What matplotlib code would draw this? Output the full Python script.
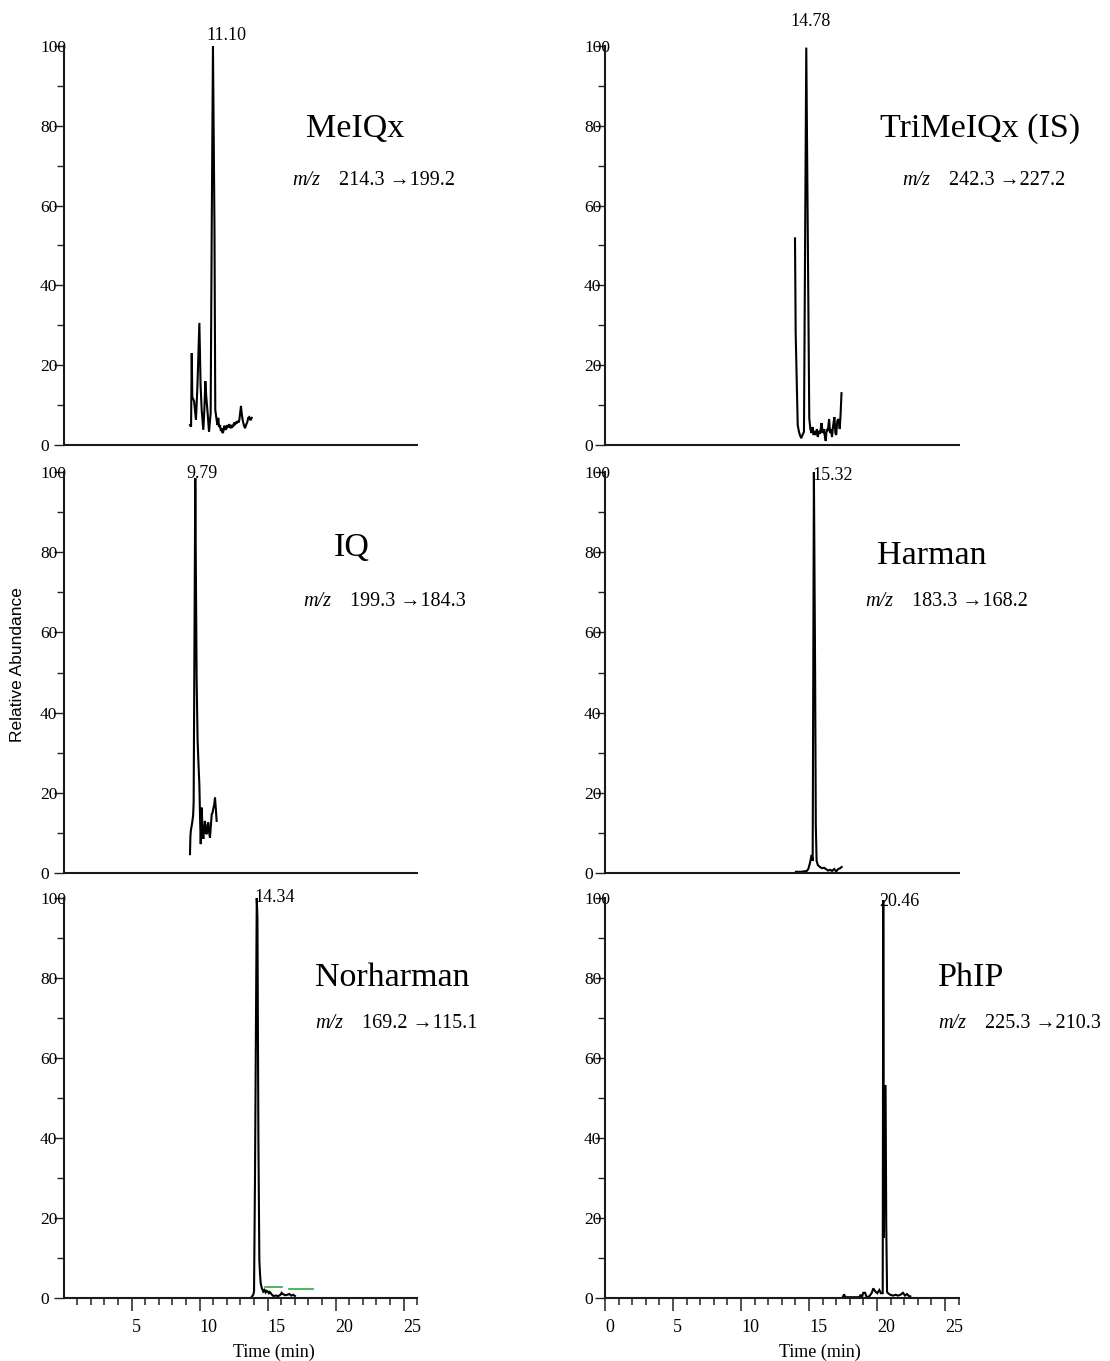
import matplotlib
matplotlib.use('Agg')
import matplotlib.pyplot as plt
import numpy as np

W, H = 1110, 1361
SERIF = ['Liberation Serif', 'DejaVu Serif']
SANS = ['Liberation Sans', 'DejaVu Sans']

# ---------------- data ----------------
compounds = ['MeIQx', 'TriMeIQx (IS)', 'IQ', 'Harman', 'Norharman', 'PhIP']
transitions = ['214.3 \u2192199.2', '242.3 \u2192227.2', '199.3 \u2192184.3',
               '183.3 \u2192168.2', '169.2 \u2192115.1', '225.3 \u2192210.3']
peak_labels = ['11.10', '14.78', '9.79', '15.32', '14.34', '20.46']
x_major_left = [5, 10, 15, 20, 25]
x_major_right = [0, 5, 10, 15, 20, 25]
y_major = [0, 20, 40, 60, 80, 100]

meiqx_t = [9.30, 9.38, 9.43, 9.47, 9.60, 9.74, 9.85, 9.99, 10.08, 10.16, 10.28, 10.36,
           10.43, 10.50, 10.58, 10.70, 10.82, 10.90, 10.99, 11.10, 11.16, 11.26,
           11.32, 11.38, 11.44, 11.51, 11.57, 11.63, 11.69, 11.75, 11.82, 11.88, 11.94,
           11.99, 12.06, 12.12, 12.18, 12.24, 12.30, 12.37, 12.43, 12.49, 12.55, 12.61,
           12.67, 12.73, 12.80, 12.86, 12.93, 13.05, 13.10, 13.17, 13.26, 13.35, 13.42,
           13.52, 13.58, 13.66, 13.75, 13.84]
meiqx_v = [5.0, 4.6, 23.0, 12.0, 11.0, 6.3, 15.0, 30.6, 15.0, 8.8, 3.8, 9.0,
           16.0, 12.0, 8.8, 3.3, 8.0, 55.0, 100.0, 55.0, 8.8, 6.3,
           5.0, 6.8, 4.5, 5.0, 3.5, 4.2, 3.0, 3.3, 4.8, 4.6, 3.8,
           4.2, 5.0, 4.4, 5.2, 4.8, 4.2, 5.0, 4.6, 4.8, 5.6, 5.0,
           5.8, 5.4, 6.0, 5.6, 6.3, 9.8, 8.0, 6.3, 5.0, 4.2, 5.0,
           5.8, 6.8, 7.0, 6.2, 6.8]

tri_t = [13.97, 14.02, 14.17, 14.25, 14.33, 14.43, 14.52, 14.63, 14.80, 15.02, 15.10,
         15.18, 15.26, 15.34, 15.42, 15.50, 15.58, 15.65, 15.72, 15.80, 15.87, 15.92,
         16.00, 16.08, 16.15, 16.23, 16.30, 16.38, 16.48, 16.55, 16.62, 16.69, 16.78,
         16.87, 16.94, 17.00, 17.08, 17.18, 17.26, 17.32, 17.39]
tri_v = [51.8, 28.0, 5.0, 3.5, 2.5, 1.7, 2.5, 3.3, 99.6, 6.7, 4.0,
         3.0, 4.5, 2.5, 3.5, 2.5, 4.0, 2.0, 3.5, 2.8, 4.2, 5.5,
         3.0, 4.0, 2.5, 1.0, 4.0, 3.5, 6.5, 3.0, 4.0, 2.0, 5.0,
         7.0, 3.0, 2.5, 6.0, 6.5, 4.0, 7.5, 13.0]

iq_t = [9.30, 9.33, 9.36, 9.46, 9.53, 9.57, 9.69, 9.74, 9.79, 9.86, 9.94, 9.99,
        10.04, 10.09, 10.13, 10.16, 10.22, 10.28, 10.34, 10.40, 10.46, 10.53, 10.59,
        10.65, 10.71, 10.77, 10.84, 10.90, 10.96, 11.01, 11.08, 11.14, 11.20, 11.26]
iq_v = [4.7, 9.0, 10.5, 12.5, 14.3, 17.6, 98.5, 72.0, 48.0, 33.0, 26.0, 22.0,
        14.0, 7.2, 12.0, 16.3, 11.0, 8.5, 11.0, 13.0, 10.0, 9.7, 12.0,
        12.6, 10.0, 8.8, 12.0, 14.7, 15.0, 16.0, 17.0, 18.8, 16.0, 13.0]

har_t = [14.04, 14.40, 14.83, 14.95, 15.07, 15.13, 15.20, 15.27, 15.36, 15.45, 15.50,
         15.56, 15.65, 15.80, 15.95, 16.10, 16.25, 16.40, 16.55, 16.70, 16.85, 17.00,
         17.15, 17.30, 17.40]
har_v = [0.3, 0.3, 0.5, 1.0, 2.5, 3.5, 4.5, 3.0, 100.0, 50.0, 12.0,
         3.0, 2.0, 1.5, 1.2, 1.3, 1.0, 0.6, 0.8, 0.5, 1.0, 0.4,
         1.0, 1.2, 1.5]

nor_t = [13.84, 13.95, 14.01, 14.08, 14.21, 14.26, 14.33, 14.40, 14.45, 14.50, 14.58,
         14.69, 14.78, 14.86, 14.94, 15.02, 15.10, 15.17, 15.24, 15.33, 15.43, 15.60,
         15.80, 15.95, 16.04, 16.12, 16.29, 16.45, 16.60, 16.75, 16.90, 17.02]
nor_v = [0.3, 0.8, 1.6, 30.0, 100.0, 95.0, 40.0, 9.5, 6.0, 3.7, 2.5,
         1.6, 2.0, 1.4, 1.8, 1.6, 1.2, 1.5, 1.2, 0.8, 0.5, 0.6,
         0.5, 0.8, 1.3, 1.0, 0.7, 0.8, 1.0, 0.6, 0.8, 0.5]
nor_base_t = [[14.84, 16.07], [16.60, 18.37]]
nor_base_v = [[2.8, 2.8], [2.2, 2.2]]

phip_t = [17.48, 17.58, 17.67, 18.00, 18.40, 18.70, 18.79, 18.89, 18.99, 19.13, 19.23,
          19.43, 19.60, 19.73, 19.88, 20.02, 20.17, 20.29, 20.42, 20.46, 20.51, 20.56,
          20.63, 20.68, 20.74, 20.81, 20.98, 21.18, 21.37, 21.54, 21.72, 21.91, 22.06,
          22.20, 22.35, 22.45]
phip_v = [0.2, 0.9, 0.2, 0.2, 0.2, 0.2, 0.8, 0.2, 1.3, 1.3, 0.2,
          0.4, 1.2, 2.4, 1.6, 1.2, 2.0, 1.2, 1.2, 99.5, 15.0, 53.0,
          53.0, 18.0, 1.5, 1.2, 0.8, 0.6, 0.8, 0.6, 0.8, 1.3, 0.6,
          1.0, 0.5, 0.4]

traces_t = [meiqx_t, tri_t, iq_t, har_t, nor_t, phip_t]
traces_v = [meiqx_v, tri_v, iq_v, har_v, nor_v, phip_v]

# ---------------- layout ----------------
fig = plt.figure(figsize=(W / 100, H / 100), dpi=100)
col_x = [(63.5, 417.1), (605.0, 958.6)]
row_y = [(46, 445), (472, 873), (898, 1298)]

# compound label positions (pixels): name (x, baseline, ha), m/z left, m/z baseline
name_pos = [(355, 137, 'center'), (980, 137, 'center'), (352, 556, 'center'),
            (932, 564, 'center'), (315, 986, 'left'), (938, 986, 'left')]
mz_pos = [(292, 185), (902, 185), (303, 606), (865, 606), (315, 1028), (938, 1028)]
# peak label offsets (pixels) from peak apex
peak_off = [(13, 11), (4, 26), (7, 5), (19, -3), (18, 0), (16, -1)]


def fx(px):
    return px / W


def fy(py):
    return 1 - py / H


axes = []
for i in range(6):
    r, c = divmod(i, 2)
    x0, x1 = col_x[c]
    yt, yb = row_y[r]
    ax = fig.add_axes([fx(x0), fy(yb), fx(x1 - x0), (yb - yt) / H])
    axes.append(ax)
    ax.set_xlim(0, 26)
    ax.set_ylim(0, 100)
    for s in ('top', 'right'):
        ax.spines[s].set_visible(False)
    for s in ('left', 'bottom'):
        ax.spines[s].set_linewidth(1.5)
        ax.spines[s].set_color('#1a1a1a')
    ax.set_yticks(y_major)
    ax.set_yticks([10, 30, 50, 70, 90], minor=True)
    ax.set_yticklabels([str(v) for v in y_major], family=SERIF, fontsize=12.5)
    pad_y = 9.7 if c == 0 else 7.9
    ax.tick_params(axis='y', which='major', direction='out', length=7.2, width=1.0,
                   pad=pad_y, color='#222222')
    ax.tick_params(axis='y', which='minor', direction='out', length=5, width=1.0,
                   color='#222222')
    for lab in ax.get_yticklabels():
        lab.set_horizontalalignment('left')
    if r == 2:
        major = x_major_left if c == 0 else x_major_right
        ax.set_xticks(major)
        ax.set_xticks([m for m in range(1, 27) if m not in major], minor=True)
        ax.set_xticklabels([str(m) for m in major], family=SERIF, fontsize=13)
        ax.tick_params(axis='x', which='major', direction='out', length=9.4, width=1.1,
                       pad=5.5, color='#222222')
        ax.tick_params(axis='x', which='minor', direction='out', length=5, width=1.1,
                       color='#222222')
        for lab in ax.get_xticklabels():
            lab.set_horizontalalignment('left')
    else:
        ax.set_xticks([])

    t = traces_t[i]
    v = traces_v[i]
    ax.plot(t, v, color='black', lw=1.5, clip_on=False, solid_joinstyle='miter')
    k = int(np.argmax(v))
    ax.annotate(peak_labels[i], xy=(t[k], v[k]), xytext=peak_off[i],
                textcoords='offset pixels', ha='center', va='center',
                family=SERIF, fontsize=13, annotation_clip=False)

    nx, nb, nha = name_pos[i]
    fig.text(fx(nx), fy(nb), compounds[i], family=SERIF, fontsize=24.5,
             ha=nha, va='baseline')
    mx, mb = mz_pos[i]
    fig.text(fx(mx), fy(mb), 'm/z', family=SERIF, style='italic', fontsize=14.5,
             ha='left', va='baseline')
    fig.text(fx(mx + 47), fy(mb), transitions[i], family=SERIF, fontsize=14.5,
             ha='left', va='baseline')

# Norharman integration baselines (green)
for bt, bv in zip(nor_base_t, nor_base_v):
    axes[4].plot(bt, bv, color='#2eaa44', lw=1.2)

fig.text(fx(18), fy(665), 'Relative Abundance', family=SANS, fontsize=12.5,
         rotation=90, ha='center', va='center')
fig.text(fx(274), fy(1352), 'Time (min)', family=SERIF, fontsize=13,
         ha='center', va='center')
fig.text(fx(820), fy(1352), 'Time (min)', family=SERIF, fontsize=13,
         ha='center', va='center')

fig.savefig('out.png', dpi=100)
